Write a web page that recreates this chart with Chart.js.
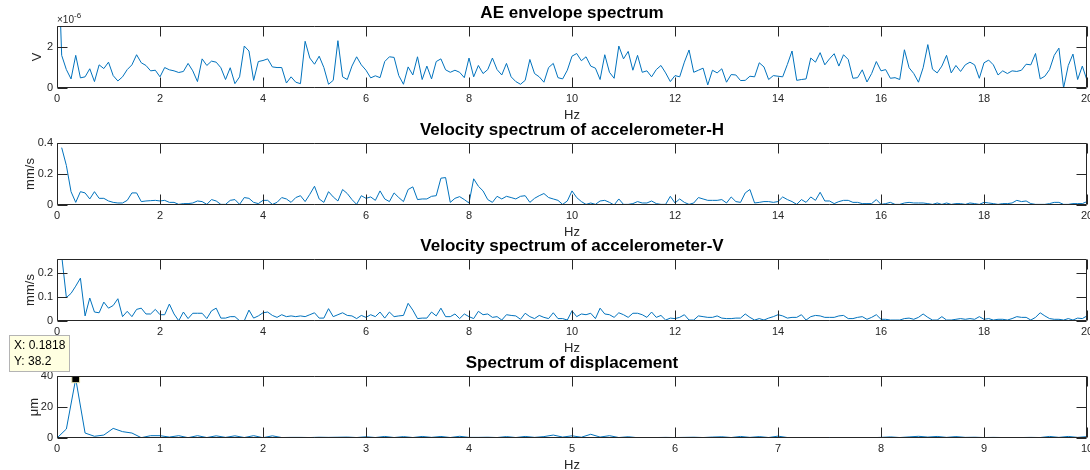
<!DOCTYPE html>
<html>
<head>
<meta charset="utf-8">
<title>Spectra</title>
<script src="https://cdn.jsdelivr.net/npm/chart.js@4/dist/chart.umd.min.js"></script>
<style>
  body { margin: 0; background: #fff; }
  #wrap { position: relative; width: 1090px; height: 470px; overflow: hidden; }
  canvas { position: absolute; left: 0; }
</style>
</head>
<body>
<div id="wrap">
  <canvas id="cAE" width="1090" height="124" style="top:0px"></canvas>
  <canvas id="cVH" width="1090" height="124" style="top:117px"></canvas>
  <canvas id="cVV" width="1090" height="124" style="top:233px"></canvas>
  <canvas id="cDisp" width="1090" height="144" style="top:330px"></canvas>
</div>
<script>
"use strict";
// frequency resolution of all spectra (Hz)
var df = 1 / 11;

var hzTicks = [0, 2, 4, 6, 8, 10, 12, 14, 16, 18, 20];
var hzTicksDisp = [0, 1, 2, 3, 4, 5, 6, 7, 8, 9, 10];
var aeTicks = [0, 2];
var velHTicks = [0, 0.2, 0.4];
var velVTicks = [0, 0.1, 0.2];
var dispTicks = [0, 20, 40];

// AE envelope, in units of 1e-6 V
var aeEnv = [8.0, 1.58, 0.89, 0.44, 1.58, 0.49, 0.54, 0.93, 0.31, 1.12,
  0.94, 1.25, 0.6, 0.34, 0.54, 0.89, 1.12, 1.61, 1.22, 1.09,
  0.83, 0.86, 0.54, 0.99, 0.88, 0.83, 0.75, 0.8, 1.19, 0.83,
  0.31, 1.41, 1.09, 1.3, 1.25, 0.98, 0.41, 0.98, 0.21, 0.54,
  2.03, 1.79, 0.37, 1.28, 1.33, 1.41, 1.02, 0.99, 0.99, 0.24,
  0.54, 0.28, 0.21, 2.26, 1.45, 1.15, 1.54, 0.99, 0.18, 0.37,
  2.29, 0.54, 0.41, 1.06, 1.51, 1.12, 0.86, 0.49, 0.59, 0.5,
  1.28, 1.51, 1.48, 0.6, 0.18, 1.02, 0.63, 1.51, 0.41, 1.06,
  0.44, 1.28, 1.41, 0.88, 0.76, 0.86, 0.76, 0.5, 1.45, 0.54,
  1.09, 0.7, 0.89, 1.45, 0.89, 0.63, 1.19, 0.54, 0.31, 0.18,
  0.37, 1.38, 0.7, 0.54, 0.28, 0.99, 1.19, 0.5, 0.44, 0.86,
  1.54, 1.67, 1.32, 1.51, 1.06, 0.96, 0.41, 1.61, 0.76, 0.47,
  2.03, 1.41, 1.77, 0.86, 1.58, 0.76, 0.83, 0.54, 0.89, 1.09,
  0.73, 0.31, 0.6, 0.54, 1.25, 1.84, 0.76, 0.86, 0.96, 0.15,
  0.86, 0.73, 0.93, 0.28, 0.65, 0.63, 0.36, 0.37, 0.57, 0.54,
  1.22, 1.02, 0.41, 0.6, 0.57, 0.54, 1.14, 1.79, 0.37, 0.41,
  0.44, 1.45, 1.25, 1.71, 1.12, 1.41, 1.66, 1.06, 1.61, 1.38,
  0.47, 0.5, 0.88, 0.29, 0.7, 1.28, 0.83, 0.89, 0.47, 0.5,
  0.41, 1.85, 0.98, 0.7, 0.28, 0.98, 2.1, 0.91, 0.73, 1.06,
  1.58, 0.73, 1.09, 0.8, 1.12, 1.25, 1.12, 0.47, 1.22, 1.35,
  1.12, 0.63, 0.83, 0.7, 0.83, 0.8, 0.86, 1.15, 1.12, 1.67,
  0.44, 0.57, 0.89, 1.58, 1.93, 0.0, 1.09, 1.64, 0.41, 1.06,
  0.37];

// velocity, horizontal accelerometer (mm/s); no value at 0 Hz
var velH = [null, 0.37, 0.255, 0.086, 0.017, 0.086, 0.078, 0.039, 0.086, 0.043,
  0.043, 0.026, 0.017, 0.013, 0.013, 0.03, 0.078, 0.078, 0.022, 0.026,
  0.028, 0.03, 0.026, 0.03, 0.017, 0.017, 0.004, 0.009, 0.009, 0.013,
  0.026, 0.022, 0.004, 0.035, 0.026, 0.004, 0.004, 0.03, 0.035, 0.004,
  0.048, 0.043, 0.017, 0.009, 0.03, 0.03, 0.004, 0.017, 0.048, 0.039,
  0.017, 0.048, 0.06, 0.022, 0.069, 0.121, 0.039, 0.017, 0.086, 0.052,
  0.026, 0.1, 0.074, 0.035, 0.004, 0.06, 0.043, 0.052, 0.03, 0.091,
  0.039, 0.022, 0.078, 0.048, 0.022, 0.1, 0.117, 0.035, 0.039, 0.039,
  0.056, 0.06, 0.173, 0.177, 0.017, 0.043, 0.054, 0.035, 0.013, 0.169,
  0.121, 0.091, 0.035, 0.017, 0.056, 0.039, 0.056, 0.048, 0.039, 0.056,
  0.06, 0.017, 0.043, 0.06, 0.074, 0.048, 0.039, 0.03, 0.004, 0.026,
  0.091, 0.048, 0.022, 0.004, 0.013, 0.004, 0.026, 0.03, 0.017, 0.0,
  0.039, 0.004, 0.004, 0.009, 0.022, 0.013, 0.013, 0.026, 0.009, 0.004,
  0.004, 0.056, 0.013, 0.039, 0.017, 0.004, 0.013, 0.048, 0.039, 0.03,
  0.03, 0.03, 0.035, 0.013, 0.052, 0.022, 0.017, 0.078, 0.1, 0.013,
  0.017, 0.022, 0.022, 0.017, 0.022, 0.052, 0.035, 0.022, 0.004, 0.035,
  0.017, 0.052, 0.03, 0.082, 0.026, 0.026, 0.009, 0.022, 0.03, 0.03,
  0.017, 0.017, 0.009, 0.009, 0.009, 0.035, 0.004, 0.009, 0.017, 0.004,
  0.004, 0.013, 0.017, 0.013, 0.013, 0.013, 0.009, 0.004, 0.013, 0.004,
  0.013, 0.004, 0.009, 0.009, 0.004, 0.013, 0.009, 0.004, 0.017, 0.013,
  0.009, 0.004, 0.009, 0.009, 0.013, 0.03, 0.022, 0.026, 0.009, 0.004,
  0.004, 0.004, 0.009, 0.017, 0.017, 0.004, 0.004, 0.009, 0.009, 0.009,
  0.022];

// velocity, vertical accelerometer (mm/s)
var velV = [null, 0.27, 0.097, 0.114, 0.144, 0.177, 0.021, 0.095, 0.037, 0.034,
  0.078, 0.053, 0.064, 0.092, 0.018, 0.04, 0.018, 0.048, 0.053, 0.029,
  0.029, 0.048, 0.026, 0.026, 0.07, 0.029, 0.001, 0.037, 0.01, 0.032,
  0.032, 0.032, 0.01, 0.042, 0.053, 0.012, 0.012, 0.018, 0.018, 0.001,
  0.001, 0.045, 0.012, 0.021, 0.034, 0.037, 0.023, 0.015, 0.026, 0.018,
  0.021, 0.018, 0.021, 0.018, 0.026, 0.034, 0.012, 0.012, 0.051, 0.018,
  0.026, 0.034, 0.023, 0.021, 0.01, 0.023, 0.015, 0.026, 0.018, 0.037,
  0.012, 0.037, 0.018, 0.021, 0.023, 0.073, 0.045, 0.01, 0.012, 0.012,
  0.037, 0.021, 0.053, 0.018, 0.018, 0.029, 0.01, 0.029, 0.018, 0.01,
  0.04, 0.026, 0.029, 0.015, 0.018, 0.004, 0.026, 0.023, 0.021, 0.007,
  0.032, 0.018, 0.01, 0.023, 0.015, 0.01, 0.034, 0.01, 0.01, 0.004,
  0.042, 0.018, 0.029, 0.026, 0.032, 0.01, 0.053, 0.029, 0.026, 0.015,
  0.034, 0.026, 0.015, 0.032, 0.032, 0.026, 0.015, 0.037, 0.015, 0.023,
  0.004, 0.012, 0.01, 0.015, 0.026, 0.004, 0.004, 0.021, 0.018, 0.015,
  0.015, 0.021, 0.012, 0.01, 0.01, 0.012, 0.012, 0.029, 0.015, 0.004,
  0.01, 0.004, 0.012, 0.018, 0.026, 0.021, 0.012, 0.015, 0.015, 0.026,
  0.004, 0.018, 0.023, 0.021, 0.015, 0.015, 0.015, 0.021, 0.023, 0.01,
  0.01, 0.015, 0.018, 0.007, 0.015, 0.026, 0.007, 0.007, 0.004, 0.004,
  0.004, 0.01, 0.012, 0.007, 0.015, 0.029, 0.015, 0.004, 0.004, 0.018,
  0.004, 0.004, 0.007, 0.01, 0.007, 0.01, 0.007, 0.018, 0.007, 0.01,
  0.004, 0.007, 0.007, 0.004, 0.01, 0.018, 0.015, 0.015, 0.004, 0.015,
  0.034, 0.021, 0.01, 0.007, 0.007, 0.004, 0.01, 0.004, 0.012, 0.01,
  0.021];

// displacement (um), 0..10 Hz
var disp = [0, 5.8, 38.2, 3.2, 1.1, 1.9, 6.2, 4.1, 3.2, 0.2,
  1.5, 1.5, 0.6, 1.5, 0.2, 1.5, 0.3, 1.4, 0.4, 1.4,
  0.3, 1.5, 0.2, 1.4, 0.3, 0.4, 0.4, 0.3, 0.5, 0.4,
  0.5, 0.6, 0.3, 0.8, 0.3, 1.0, 0.3, 0.9, 0.3, 1.0,
  0.4, 1.0, 0.3, 1.1, 0.4, 0.4, 0.5, 0.3, 0.9, 0.3,
  1.0, 0.4, 0.9, 1.9, 0.6, 1.4, 0.5, 2.4, 0.6, 1.5,
  0.3, 0.8, 0.2, 0.3, 0.3, 0.4, 0.3, 0.4, 0.5, 0.3,
  0.6, 0.8, 0.3, 1.0, 0.4, 0.9, 0.3, 1.2, 0.3, 0.1,
  0.2, 0.2, 0.2, 0.3, 0.3, 0.3, 0.3, 0.2, 0.4, 0.7,
  0.3, 0.7, 1.1, 0.6, 1.0, 0.4, 0.9, 0.4, 0.5, 0.3,
  0.4, 0.3, 0.3, 0.3, 0.4, 0.3, 1.0, 0.4, 1.0, 0.4,
  0.9];
var peakIndex = 2;

var FONT = '"Liberation Sans", Arial, Helvetica, sans-serif';
var AXIS = '#262626';
var LINE = '#0072BD';
Chart.defaults.font.family = FONT;

function toPoints(vals) {
    return vals.map(function(v, i) { return {x: i * df, y: v}; });
}

// box round the plot with inward ticks on all four sides
var matlabBox = {
    id: 'matlabBox',
    afterDatasetsDraw: function(chart) {
        var ctx = chart.ctx, a = chart.chartArea;
        var sx = chart.scales.x, sy = chart.scales.y;
        var L = Math.round(a.left) + 0.5, R = Math.round(a.right) - 0.5;
        var T = Math.round(a.top) + 0.5, B = Math.round(a.bottom) - 0.5;
        ctx.save();
        ctx.strokeStyle = AXIS;
        ctx.lineWidth = 1;
        ctx.beginPath();
        ctx.rect(L, T, R - L, B - T);
        sx.ticks.forEach(function(t) {
            var px = Math.round(sx.getPixelForValue(t.value)) + 0.5;
            ctx.moveTo(px, B); ctx.lineTo(px, B - 10);
            ctx.moveTo(px, T); ctx.lineTo(px, T + 10);
        });
        sy.ticks.forEach(function(t) {
            var py = Math.round(sy.getPixelForValue(t.value)) + 0.5;
            ctx.moveTo(L, py); ctx.lineTo(L + 10, py);
            ctx.moveTo(R, py); ctx.lineTo(R - 10, py);
        });
        ctx.stroke();
        ctx.restore();
    }
};

// "x10^-6" multiplier over the AE axis
var exponentLabel = {
    id: 'exponentLabel',
    afterDraw: function(chart) {
        var ctx = chart.ctx, a = chart.chartArea;
        ctx.save();
        ctx.fillStyle = AXIS;
        ctx.textBaseline = 'alphabetic';
        ctx.font = '10px ' + FONT;
        ctx.fillText('\u00d710', a.left, a.top - 3);
        var w = ctx.measureText('\u00d710').width;
        ctx.font = '8px ' + FONT;
        ctx.fillText('-6', a.left + w, a.top - 8);
        ctx.restore();
    }
};

// data tip at the displacement peak
var dataTip = {
    id: 'dataTip',
    afterDraw: function(chart) {
        var ctx = chart.ctx;
        var px = chart.scales.x.getPixelForValue(peakIndex * df);
        var py = chart.scales.y.getPixelForValue(disp[peakIndex]);
        var bx = Math.round(px - 67), by = Math.round(py - 44), bw = 61, bh = 37;
        ctx.save();
        ctx.fillStyle = '#ffffe1';
        ctx.strokeStyle = '#b4b4b4';
        ctx.lineWidth = 1;
        ctx.fillRect(bx, by, bw, bh);
        ctx.strokeRect(bx + 0.5, by + 0.5, bw - 1, bh - 1);
        ctx.fillStyle = '#000';
        ctx.font = '12px ' + FONT;
        ctx.textBaseline = 'middle';
        ctx.fillText('X: ' + (peakIndex * df).toFixed(4), bx + 5, by + 11);
        ctx.fillText('Y: ' + disp[peakIndex], bx + 5, by + 27);
        ctx.restore();
    }
};

function makeChart(id, cfg) {
    var ctx = document.getElementById(id).getContext('2d');
    var ds = {
        data: toPoints(cfg.values),
        borderColor: LINE,
        borderWidth: 1,
        pointRadius: 0,
        fill: false,
        spanGaps: false,
        tension: 0
    };
    if (cfg.marker != null) {
        ds.pointRadius = function(c) { return c.dataIndex === cfg.marker ? 5.5 : 0; };
        ds.pointStyle = 'rect';
        ds.pointBackgroundColor = '#000';
        ds.pointBorderColor = '#e8e6b0';
        ds.pointBorderWidth = 1;
    }
    return new Chart(ctx, {
        type: 'line',
        data: {datasets: [ds]},
        plugins: [matlabBox].concat(cfg.plugins || []),
        options: {
            responsive: false,
            animation: false,
            events: [],
            layout: {padding: {left: 0, right: 3, top: 0, bottom: 0}},
            plugins: {
                legend: {display: false},
                tooltip: {enabled: false},
                title: {
                    display: true,
                    fullSize: false,
                    text: cfg.title,
                    color: '#000',
                    font: {size: 17, weight: 'bold', lineHeight: 1.2},
                    padding: {top: cfg.titleTop, bottom: 2.8}
                }
            },
            scales: {
                x: {
                    type: 'linear',
                    min: 0,
                    max: cfg.xMax,
                    grid: {display: false, drawTicks: false},
                    border: {display: false},
                    afterBuildTicks: function(s) {
                        s.ticks = cfg.xTicks.map(function(v) { return {value: v}; });
                    },
                    afterFit: function(s) {
                        s.height = 36;
                        s.paddingLeft = 0;
                        s.paddingRight = 0;
                    },
                    ticks: {autoSkip: false, maxRotation: 0, padding: 4, color: AXIS, font: {size: 11}},
                    title: {display: true, text: 'Hz', color: AXIS, font: {size: 13}, padding: {top: 0, bottom: 1}}
                },
                y: {
                    type: 'linear',
                    min: 0,
                    max: cfg.yMax,
                    grid: {display: false, drawTicks: false},
                    border: {display: false},
                    afterBuildTicks: function(s) {
                        s.ticks = cfg.yTicks.map(function(v) { return {value: v}; });
                    },
                    afterFit: function(s) {
                        s.width = 57;
                        s.paddingTop = 0;
                        s.paddingBottom = 0;
                    },
                    ticks: {padding: 4, color: AXIS, font: {size: 11}},
                    title: {display: true, text: cfg.yLabel, color: AXIS, font: {size: 13}, padding: {top: cfg.yLabelPad, bottom: 0}}
                }
            }
        }
    });
}

makeChart('cAE', {
    title: 'AE envelope spectrum', titleTop: 2.8,
    values: aeEnv, xMax: 20, xTicks: hzTicks,
    yMax: 3, yTicks: aeTicks, yLabel: 'V', yLabelPad: 30,
    plugins: [exponentLabel]
});

makeChart('cVH', {
    title: 'Velocity spectrum of accelerometer-H', titleTop: 2.8,
    values: velH, xMax: 20, xTicks: hzTicks,
    yMax: 0.4, yTicks: velHTicks, yLabel: 'mm/s', yLabelPad: 23
});

makeChart('cVV', {
    title: 'Velocity spectrum of accelerometer-V', titleTop: 2.8,
    values: velV, xMax: 20, xTicks: hzTicks,
    yMax: 0.256, yTicks: velVTicks, yLabel: 'mm/s', yLabelPad: 23
});

makeChart('cDisp', {
    title: 'Spectrum of displacement', titleTop: 22.8,
    values: disp, xMax: 10, xTicks: hzTicksDisp,
    yMax: 40, yTicks: dispTicks, yLabel: '\u03bcm', yLabelPad: 27,
    marker: peakIndex,
    plugins: [dataTip]
});
</script>
</body>
</html>
